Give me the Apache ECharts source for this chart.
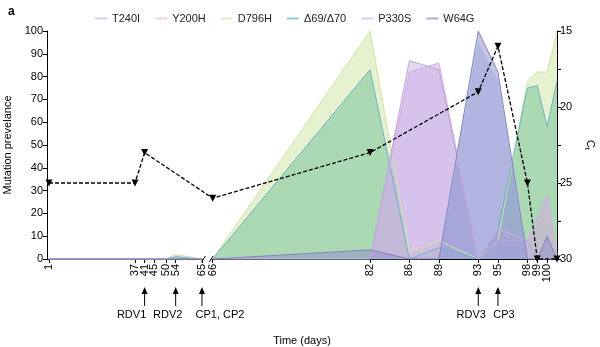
<!DOCTYPE html>
<html><head><meta charset="utf-8">
<script src="https://cdn.jsdelivr.net/npm/echarts@6/dist/echarts.min.js"></script>
<style>html,body{margin:0;padding:0;background:#fff}#c{width:600px;height:347px}</style>
</head><body><div id="c"></div>
<script>
// ---- data ----
const days  = [1,37,41,45,50,54,65,66,82,86,89,93,95,98,99,100,101];
const t240i = [0,0,0,0,0,0,0, 0,0,87,83,0,8,8,0,0,0];
const y200h = [0,0,0,0,0,0,0, 0,0,82,86,0,13,8,18,28,2];
const d796h = [0,0,0,0,0,2,0, 0,100,3,8,0,8,78,82,82,99];
const d6970 = [0,0,0,0,0,1,0, 0,83,0,5,0,13,75,76,58,78];
const p330s = [0,0,0,0,0,0,0, 0,0,0,0,95,78,0,0,0,0];
const w64g  = [0,0,0,0,0,0,0, 0,4,0,0,100,82,0,0,10,0];
const ctDays   = [1,37,41,66,82,93,95,98,99,101];
const ctValues = [25,25,23,26,23,19,16,25,30,30];
const annotations = [
  {day:41, text:'RDV1'}, {day:54, text:'RDV2'}, {day:65, text:'CP1, CP2'},
  {day:93, text:'RDV3'}, {day:95, text:'CP3'}
];
const yTicks = [0,10,20,30,40,50,60,70,80,90,100];

// ---- piecewise time scale (axis break between 65 and 66) ----
const K1 = 2.39, K2 = 9.837, GAP = 10.7;
function pos(d){ return d <= 65 ? 2 + (d-1)*K1 : 2 + 64*K1 + GAP + (d-66)*K2; }
const posToDay = {};
days.forEach(d => { posToDay[pos(d).toFixed(3)] = d; });

function build(vals){
  const out = [];
  days.forEach((d,i) => {
    if (d === 66) out.push([pos(65.5), '-']);
    out.push([pos(d), vals[i]]);
  });
  return out;
}

const FONT = 'Liberation Sans';
const defs = [
  {name:'D796H',   vals:d796h, fill:'#cbe3a0', line:'#cfe4a8', leg:'#dcecc8'},
  {name:'Δ69/Δ70', vals:d6970, fill:'#70c29a', line:'#6cb4c8', leg:'#90c8d8'},
  {name:'Y200H',   vals:y200h, fill:'#d9a6e6', line:'#dba8e4', leg:'#f0d0f0'},
  {name:'T240I',   vals:t240i, fill:'#c2b4e4', line:'#b8a8dc', leg:'#d8d0ea'},
  {name:'P330S',   vals:p330s, fill:'#a8c2ea', line:'#a4c0e4', leg:'#c8d8ee'},
  {name:'W64G',    vals:w64g,  fill:'#8f8ccc', line:'#8a80bc', leg:'#b4acd0'}
];
const legendOrder = ['T240I','Y200H','D796H','Δ69/Δ70','P330S','W64G'];

const series = defs.map(s => ({
  name: s.name, type:'line', data: build(s.vals), symbol:'none',
  lineStyle:{color:s.line, width:1}, itemStyle:{color:s.line},
  areaStyle:{color:s.fill, opacity:0.5}, z:2
}));
series.push({
  name:'Ct', type:'line', yAxisIndex:1,
  data: ctDays.map((d,i)=>[pos(d), ctValues[i]]),
  lineStyle:{color:'#000', width:1.3, type:[4,2]},
  itemStyle:{color:'#000'}, symbol:'triangle', symbolRotate:180, symbolSize:7, z:5
});

const chart = echarts.init(document.getElementById('c'), null, {renderer:'canvas'});
const option = {
  animation:false,
  textStyle:{fontFamily:FONT},
  title:{text:'a', left:3, top:1, textStyle:{fontSize:12, fontWeight:'bold', color:'#000', fontFamily:FONT}},
  legend:{
    data: legendOrder.map(n => ({name:n, itemStyle:{color:defs.find(d=>d.name===n).leg}})),
    left:90, top:8, icon:'rect', itemWidth:12, itemHeight:2, itemGap:15,
    textStyle:{fontSize:11, color:'#222', fontFamily:FONT}
  },
  grid:{left:47, right:43, top:31, bottom:88, containLabel:false, outerBoundsMode:'none'},
  xAxis:{
    type:'value', min:0, max:510,
    name:'Time (days)', nameLocation:'middle', nameGap:76,
    nameTextStyle:{fontSize:11, color:'#000'},
    axisLine:{show:true, lineStyle:{color:'#000', width:1}},
    axisTick:{show:true, length:4, lineStyle:{color:'#000'}, customValues: days.map(pos)},
    axisLabel:{rotate:90, fontSize:11, color:'#000', margin:5,
      customValues: days.map(pos),
      formatter: v => String(posToDay[Number(v).toFixed(3)] ?? '')},
    splitLine:{show:false}
  },
  yAxis:[{
    type:'value', min:0, max:100, interval:10,
    name:'Mutation prevelance', nameLocation:'middle', nameGap:24,
    nameTextStyle:{fontSize:11, color:'#000'},
    axisLine:{show:true, lineStyle:{color:'#000'}},
    axisTick:{show:true, length:4, lineStyle:{color:'#000'}},
    axisLabel:{fontSize:11, color:'#000', margin:4,
      formatter: v => yTicks.includes(v) ? String(v) : ''},
    splitLine:{show:false}
  },{
    type:'value', min:15, max:30, interval:2.5, inverse:true, position:'right',
    name:'{c|C}{t|t}', nameLocation:'middle', nameGap:17, nameRotate:-90,
    nameTextStyle:{color:'#000', rich:{c:{fontSize:11, color:'#000'}, t:{fontSize:8, color:'#000', verticalAlign:'bottom', padding:[5,0,0,0]}}},
    axisLine:{show:true, lineStyle:{color:'#000'}},
    axisTick:{show:true, length:4, lineStyle:{color:'#000'}},
    axisLabel:{fontSize:11, color:'#000', margin:3,
      formatter: v => (v % 5 === 0) ? String(v) : ''},
    splitLine:{show:false}
  }],
  series: series
};
chart.setOption(option);

// annotations + axis break marks, positioned through the axis scale
const gfx = [];
const axisY = chart.convertToPixel({yAxisIndex:0}, 0);
annotations.forEach(a => {
  const x = chart.convertToPixel({xAxisIndex:0}, pos(a.day));
  const dx = {RDV1:-13, RDV2:-8, 'CP1, CP2':18, RDV3:-7, CP3:6}[a.text];
  gfx.push({type:'line', shape:{x1:x, y1:axisY+47, x2:x, y2:axisY+32}, style:{stroke:'#000', lineWidth:1}});
  gfx.push({type:'polygon', shape:{points:[[x,axisY+28],[x-3,axisY+35],[x+3,axisY+35]]}, style:{fill:'#000'}});
  gfx.push({type:'text', x:x+dx, y:axisY+56, style:{text:a.text, fill:'#000', font:'11px ' + FONT, align:'center', verticalAlign:'middle'}});
});
const xa = chart.convertToPixel({xAxisIndex:0}, pos(65));
const xb = chart.convertToPixel({xAxisIndex:0}, pos(66));
gfx.push({type:'rect', shape:{x:xa+1, y:axisY-1.5, width:xb-xa-2, height:3}, style:{fill:'#fff'}, z:100});
[xa+1.5, xb-1.5].forEach(x => {
  gfx.push({type:'line', shape:{x1:x-2, y1:axisY+3, x2:x+2, y2:axisY-3}, style:{stroke:'#000', lineWidth:1}, z:101});
});
chart.setOption({graphic: gfx});
</script>
</body></html>
